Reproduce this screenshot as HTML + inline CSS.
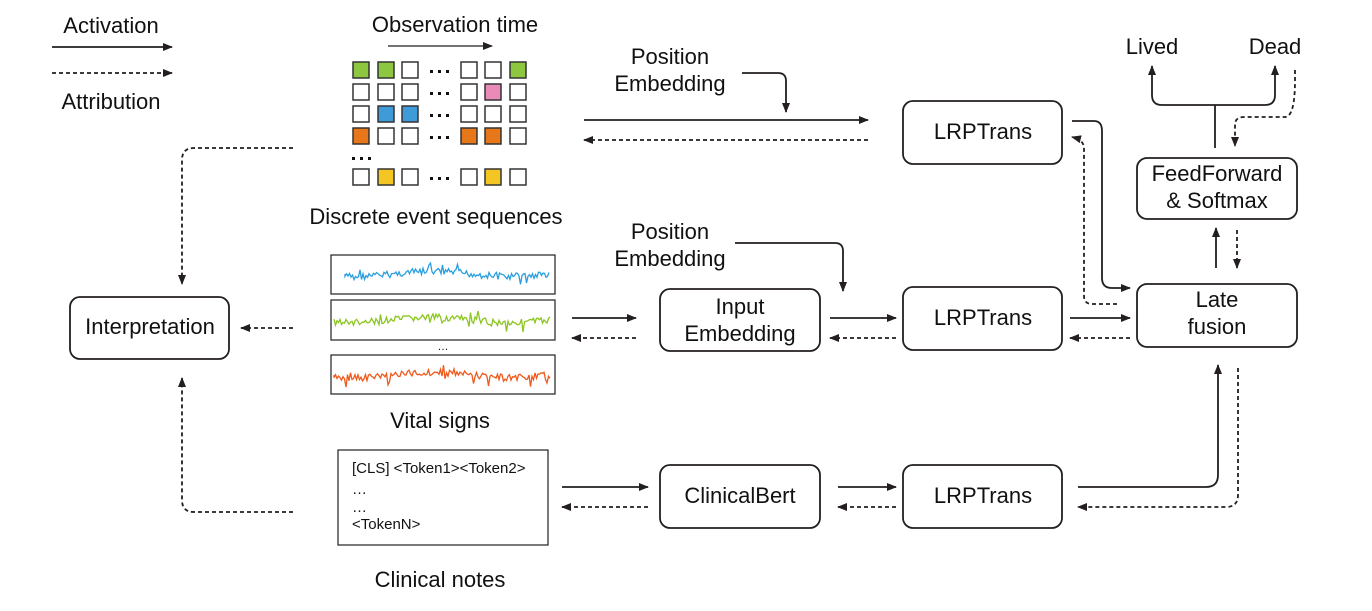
<!DOCTYPE html>
<html><head><meta charset="utf-8"><style>
body{margin:0;background:#fff;}
svg text{font-family:"Liberation Sans",Arial,sans-serif;fill:#111;}
</style></head><body>
<svg id="s" width="1372" height="606" viewBox="0 0 1372 606" xmlns="http://www.w3.org/2000/svg">
<defs>
<marker id="a" markerWidth="10" markerHeight="8" refX="9" refY="4" orient="auto" markerUnits="userSpaceOnUse"><path d="M0,0 L10,4 L0,8 Z" fill="#231f20"/></marker>
</defs>
<g stroke="#231f20" stroke-width="1.8" fill="none">
<line x1="52" y1="47" x2="172" y2="47" marker-end="url(#a)"/>
<line x1="52" y1="73" x2="172" y2="73" stroke-dasharray="4,3" marker-end="url(#a)"/>
<line x1="388" y1="46" x2="492" y2="46" stroke-width="1.2" marker-end="url(#a)"/>
<line x1="584" y1="120" x2="868" y2="120" marker-end="url(#a)"/>
<line x1="868" y1="140" x2="584" y2="140" stroke-dasharray="4,3" marker-end="url(#a)"/>
<path d="M742,73 H778 Q786,73 786,81 V112" marker-end="url(#a)"/>
<path d="M735,243 H835 Q843,243 843,251 V291" marker-end="url(#a)"/>
<line x1="572" y1="318" x2="636" y2="318" marker-end="url(#a)"/>
<line x1="636" y1="338" x2="572" y2="338" stroke-dasharray="4,3" marker-end="url(#a)"/>
<line x1="830" y1="318" x2="896" y2="318" marker-end="url(#a)"/>
<line x1="896" y1="338" x2="830" y2="338" stroke-dasharray="4,3" marker-end="url(#a)"/>
<line x1="1070" y1="318" x2="1130" y2="318" marker-end="url(#a)"/>
<line x1="1130" y1="338" x2="1070" y2="338" stroke-dasharray="4,3" marker-end="url(#a)"/>
<line x1="562" y1="487" x2="648" y2="487" marker-end="url(#a)"/>
<line x1="648" y1="507" x2="562" y2="507" stroke-dasharray="4,3" marker-end="url(#a)"/>
<line x1="838" y1="487" x2="896" y2="487" marker-end="url(#a)"/>
<line x1="896" y1="507" x2="838" y2="507" stroke-dasharray="4,3" marker-end="url(#a)"/>
<path d="M1078,487 H1206 Q1218,487 1218,475 V365" marker-end="url(#a)"/>
<path d="M1238,368 V495 Q1238,507 1226,507 H1078" stroke-dasharray="4,3" marker-end="url(#a)"/>
<path d="M1072,121 H1094 Q1102,121 1102,131 V278 Q1102,288 1112,288 H1130" marker-end="url(#a)"/>
<path d="M1117,304 H1092 Q1084,304 1084,296 V148 Q1084,140 1072,137" stroke-dasharray="4,3" marker-end="url(#a)"/>
<line x1="1216" y1="268" x2="1216" y2="228" marker-end="url(#a)"/>
<line x1="1237" y1="230" x2="1237" y2="268" stroke-dasharray="4,3" marker-end="url(#a)"/>
<path d="M1215,148 V105"/>
<path d="M1215,105 H1162 Q1152,105 1152,95 V66" marker-end="url(#a)"/>
<path d="M1215,105 H1265 Q1275,105 1275,95 V66" marker-end="url(#a)"/>
<path d="M1295,70 V80 Q1295,117 1285,117 H1244 Q1235,117 1235,125 V146" stroke-dasharray="4,3" marker-end="url(#a)"/>
<path d="M293,148 H194 Q182,148 182,160 V284" stroke-dasharray="4,3" marker-end="url(#a)"/>
<path d="M293,512 H194 Q182,512 182,500 V378" stroke-dasharray="4,3" marker-end="url(#a)"/>
<line x1="293" y1="328" x2="241" y2="328" stroke-dasharray="4,3" marker-end="url(#a)"/>
</g>
<g stroke="#231f20" stroke-width="1.8" fill="#fff">
<rect x="70" y="297" width="159" height="62" rx="10"/>
<rect x="660" y="289" width="160" height="62" rx="10"/>
<rect x="903" y="101" width="159" height="63" rx="10"/>
<rect x="903" y="287" width="159" height="63" rx="10"/>
<rect x="903" y="465" width="159" height="63" rx="10"/>
<rect x="660" y="465" width="160" height="63" rx="10"/>
<rect x="1137" y="158" width="160" height="61" rx="10"/>
<rect x="1137" y="284" width="160" height="63" rx="10"/>
</g>
<g stroke="#231f20" stroke-width="1.2" fill="#fff">
<rect x="331" y="255" width="224" height="39"/>
<rect x="331" y="300" width="224" height="40"/>
<rect x="331" y="355" width="224" height="39"/>
<rect x="338" y="450" width="210" height="95"/>
</g>
<g id="grid"></g>
<g id="waves" fill="none" stroke-width="1.3"></g>
<g font-size="22">
<text x="111" y="33" text-anchor="middle">Activation</text>
<text x="111" y="109" text-anchor="middle">Attribution</text>
<text x="455" y="32" text-anchor="middle">Observation time</text>
<text x="436" y="224" text-anchor="middle">Discrete event sequences</text>
<text x="440" y="428" text-anchor="middle">Vital signs</text>
<text x="440" y="587" text-anchor="middle">Clinical notes</text>
<text x="670" y="64" text-anchor="middle">Position</text>
<text x="670" y="91" text-anchor="middle">Embedding</text>
<text x="670" y="239" text-anchor="middle">Position</text>
<text x="670" y="266" text-anchor="middle">Embedding</text>
<text x="150" y="334" text-anchor="middle">Interpretation</text>
<text x="740" y="314" text-anchor="middle">Input</text>
<text x="740" y="341" text-anchor="middle">Embedding</text>
<text x="983" y="139" text-anchor="middle">LRPTrans</text>
<text x="983" y="325" text-anchor="middle">LRPTrans</text>
<text x="983" y="503" text-anchor="middle">LRPTrans</text>
<text x="740" y="503" text-anchor="middle">ClinicalBert</text>
<text x="1217" y="181" text-anchor="middle">FeedForward</text>
<text x="1217" y="208" text-anchor="middle">&amp; Softmax</text>
<text x="1217" y="307" text-anchor="middle">Late</text>
<text x="1217" y="334" text-anchor="middle">fusion</text>
<text x="1152" y="54" text-anchor="middle">Lived</text>
<text x="1275" y="54" text-anchor="middle">Dead</text>
</g>
<g font-size="15">
<text x="352" y="473">[CLS] &lt;Token1&gt;&lt;Token2&gt;</text>
<text x="352" y="494">…</text>
<text x="352" y="512">…</text>
<text x="352" y="529">&lt;TokenN&gt;</text>
<text x="443" y="350" text-anchor="middle" font-size="11">…</text>
</g>
</svg>
<script>
var NS="http://www.w3.org/2000/svg";
var g=document.getElementById("grid");
var cols=[353,378,402,461,485,510], rows=[62,84,106,128,169];
var G="#8dc63f",B="#3f9bd8",O="#e8771a",P="#e98ab7",Y="#f4c623",W="#fff";
var colors=[[G,G,W,W,W,G],[W,W,W,W,P,W],[W,B,B,W,W,W],[O,W,W,O,O,W],[W,Y,W,W,Y,W]];
function dots(x,y){for(var i=0;i<3;i++){var c=document.createElementNS(NS,"rect");c.setAttribute("x",x+i*8);c.setAttribute("y",y);c.setAttribute("width",3);c.setAttribute("height",3);c.setAttribute("fill","#111");g.appendChild(c);}}
rows.forEach(function(y,r){cols.forEach(function(x,c){var e=document.createElementNS(NS,"rect");
e.setAttribute("x",x);e.setAttribute("y",y);e.setAttribute("width",16);e.setAttribute("height",16);
e.setAttribute("fill",colors[r][c]);e.setAttribute("stroke","#333");e.setAttribute("stroke-width","1.5");g.appendChild(e);});
dots(430,y+8);});
dots(352,157);
var seed=7;function rnd(){seed=(seed*9301+49297)%233280;return seed/233280;}
var w=document.getElementById("waves");
[[345,274,"#2a9fe0"],[334,320,"#8cc620"],[334,375,"#ef5a1c"]].forEach(function(s){
var d="M"+s[0]+","+s[1];for(var x=s[0];x<=550;x+=1.5){var y=s[1]+Math.sin(x/25)*2.5+(rnd()-0.5)*(rnd()<0.12?20:7);d+=" L"+x+","+y.toFixed(1);}
var p=document.createElementNS(NS,"path");p.setAttribute("d",d);p.setAttribute("stroke",s[2]);w.appendChild(p);});
</script>
</body></html>
